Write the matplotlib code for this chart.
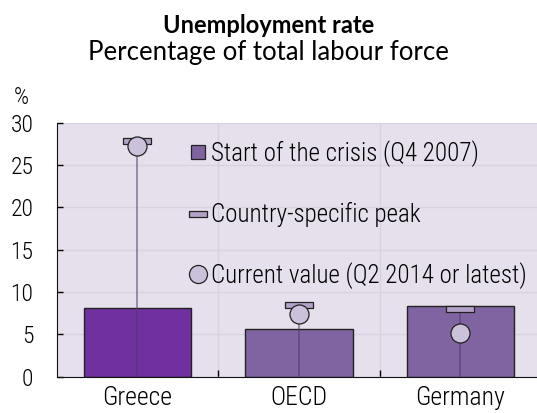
import matplotlib.pyplot as plt
from matplotlib.path import Path
from matplotlib.lines import Line2D

countries = ["Greece", "OECD", "Germany"]
crisis_start = [8.1, 5.6, 8.3]
peak = [27.8, 8.5, 8.0]
current = [27.3, 7.4, 5.2]
y_ticks = [0, 5, 10, 15, 20, 25, 30]
legend_labels = ["Start of the crisis (Q4 2007)", "Country-specific peak",
                 "Current value (Q2 2014 or latest)"]

bar_colors = ["#7030A0", "#8064A2", "#8064A2"]
bg = "#E5E0EC"
grid_col = "#D8D2DE"
cap_fill = "#B3A2C7"
dot_fill = "#CCC1DA"
stem_col = "#4E3D66"
edge = "#222222"

narrow = ["Roboto Condensed", "DejaVu Sans"]
title_font = ["Lato", "DejaVu Sans"]


def flat_box(h):
    # rectangle marker, half-height h relative to half-width 1
    return Path([(-1, -h), (1, -h), (1, h), (-1, h), (-1, -h)],
                [Path.MOVETO, Path.LINETO, Path.LINETO, Path.LINETO, Path.CLOSEPOLY])


fig = plt.figure(figsize=(5.37, 4.13), dpi=100)
ax = fig.add_axes([56.7 / 537, 36.3 / 413, 484.5 / 537, 254 / 413])
ax.set_facecolor(bg)

x = list(range(len(countries)))
ax.bar(x, crisis_start, width=0.665, color=bar_colors, edgecolor=edge,
       linewidth=1.0, zorder=2)
ax.vlines(x, 0, peak, color=stem_col, linewidth=1.2, alpha=0.6, zorder=3)
ax.plot(x, peak, linestyle="none", marker=flat_box(0.2), markersize=19.5,
        markerfacecolor=cap_fill, markeredgecolor=edge,
        markeredgewidth=0.9, zorder=4)
ax.plot(x, current, linestyle="none", marker="o", markersize=13.7,
        markerfacecolor=dot_fill, markeredgecolor=edge,
        markeredgewidth=0.9, zorder=5)

ax.set_xlim(-0.5, 2.5)
ax.set_ylim(0, 30)
ax.set_yticks(y_ticks)
ax.set_yticklabels([str(v) for v in y_ticks], family=narrow, fontsize=17,
                   fontweight="light")
ax.set_xticks([0.5, 1.5])
ax.set_xticks(x, minor=True)
ax.set_xticklabels([])
ax.set_xticklabels(countries, minor=True, family=narrow, fontsize=18.5,
                   fontweight="light")
ax.tick_params(axis="y", direction="in", length=4.5, width=1, pad=16.8)
ax.tick_params(axis="x", which="major", direction="in", length=5, width=1)
ax.tick_params(axis="x", which="minor", length=0, pad=7)

ax.grid(True, axis="y", color=grid_col, linewidth=1, zorder=0)
ax.grid(True, axis="x", which="major", color=grid_col, linewidth=1, zorder=0)
ax.set_axisbelow(True)
for side in ["top", "right"]:
    ax.spines[side].set_visible(False)
ax.spines["left"].set_color("#111111")
ax.spines["bottom"].set_color("#111111")

handles = [
    Line2D([], [], linestyle="none", marker="s", markersize=9.4,
           markerfacecolor="#8064A2", markeredgecolor=edge, markeredgewidth=0.9),
    Line2D([], [], linestyle="none", marker=flat_box(0.28), markersize=13,
           markerfacecolor=cap_fill, markeredgecolor=edge, markeredgewidth=0.9),
    Line2D([], [], linestyle="none", marker="o", markersize=13,
           markerfacecolor=dot_fill, markeredgecolor=edge, markeredgewidth=0.9),
]
ax.legend(handles, legend_labels, loc="upper left", bbox_to_anchor=(0.273, 0.93),
          frameon=False, prop={"family": narrow, "size": 18, "weight": "light"},
          handlelength=0.72, handletextpad=0.18, labelspacing=1.40,
          borderpad=0, borderaxespad=0)

fig.text(21.5 / 537, 1 - 97 / 413, "%", family=narrow, fontsize=17,
         fontweight="light", ha="center", va="center")
fig.text(0.5, 1 - 33.3 / 413, "Unemployment rate", family=title_font,
         fontweight="bold", fontsize=17, ha="center", va="baseline")
fig.text(0.5, 1 - 60 / 413, "Percentage of total labour force",
         family=title_font, fontsize=18.5, ha="center", va="baseline")

fig.savefig("out.png", dpi=100)
